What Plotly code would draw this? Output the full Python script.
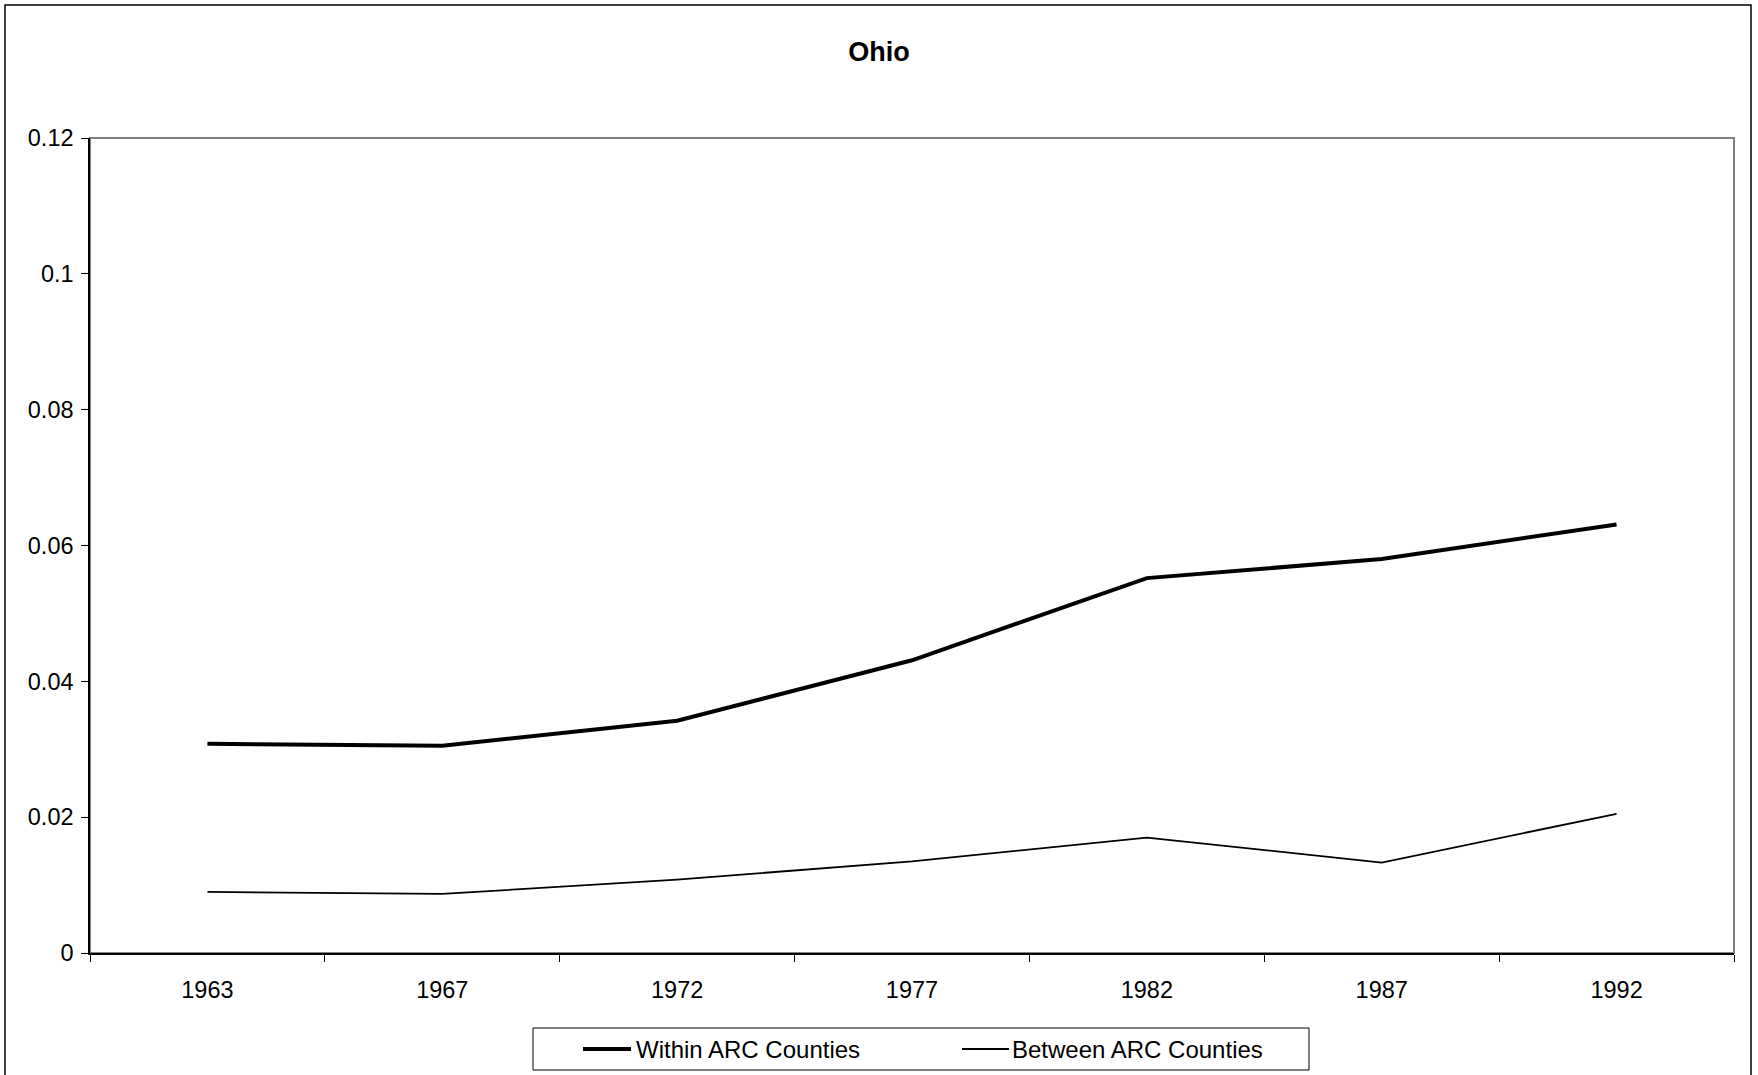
import plotly.graph_objects as go

# ---- data ----
years = ["1963", "1967", "1972", "1977", "1982", "1987", "1992"]
within_arc = [0.0308, 0.0305, 0.0342, 0.0431, 0.0552, 0.0580, 0.0631]
between_arc = [0.0090, 0.0087, 0.0108, 0.0135, 0.0170, 0.0133, 0.0205]
y_ticks = [0, 0.02, 0.04, 0.06, 0.08, 0.10, 0.12]
y_tick_text = ["0", "0.02", "0.04", "0.06", "0.08", "0.1", "0.12"]
series_names = ["Within ARC Counties", "Between ARC Counties"]
chart_title = "Ohio"

# ---- page geometry (pixels) ----
W, H = 1758, 1075
PL, PR, PT, PB = 90, 1734, 138, 953          # plot area edges
FONT = "Liberation Sans, Arial, sans-serif"


def px_x(x):
    return (x - PL) / (PR - PL)


def px_y(y):
    return (PB - y) / (PB - PT)


fig = go.Figure()
fig.add_trace(go.Scatter(x=years, y=within_arc, mode="lines", name=series_names[0],
                         line=dict(color="black", width=4), showlegend=False))
fig.add_trace(go.Scatter(x=years, y=between_arc, mode="lines", name=series_names[1],
                         line=dict(color="black", width=1.8), showlegend=False))

shapes = [
    # outer chart frame
    dict(type="rect", xref="paper", yref="paper", x0=px_x(5), x1=px_x(1751),
         y0=px_y(5), y1=px_y(1095), line=dict(color="black", width=1.5), layer="below"),
    # grey plot-area border (top/right visible)
    dict(type="rect", xref="paper", yref="paper", x0=0, x1=1, y0=0, y1=1,
         line=dict(color="#808080", width=2), layer="below"),
    # legend box
    dict(type="rect", xref="paper", yref="paper", x0=px_x(533), x1=px_x(1309),
         y0=px_y(1028), y1=px_y(1070), line=dict(color="black", width=1),
         fillcolor="white", layer="above"),
    # legend line samples
    dict(type="line", xref="paper", yref="paper", x0=px_x(583), x1=px_x(631),
         y0=px_y(1049), y1=px_y(1049), line=dict(color="black", width=4)),
    dict(type="line", xref="paper", yref="paper", x0=px_x(962), x1=px_x(1009),
         y0=px_y(1049), y1=px_y(1049), line=dict(color="black", width=1.8)),
]

annotations = [
    dict(text=series_names[0], xref="paper", yref="paper", x=px_x(634), y=px_y(1049),
         xanchor="left", yanchor="middle", showarrow=False,
         font=dict(family=FONT, size=24, color="black")),
    dict(text=series_names[1], xref="paper", yref="paper", x=px_x(1010), y=px_y(1049),
         xanchor="left", yanchor="middle", showarrow=False,
         font=dict(family=FONT, size=24, color="black")),
]

fig.update_layout(
    width=W, height=H,
    margin=dict(l=PL, r=W - PR, t=PT, b=H - PB, pad=0),
    paper_bgcolor="white", plot_bgcolor="white",
    font=dict(family=FONT, size=23, color="black"),
    title=dict(text=chart_title, x=0.5, xref="container", xanchor="center",
               y=1 - 52 / H, yref="container", yanchor="middle",
               font=dict(family=FONT, size=27, color="black", weight="bold")),
    shapes=shapes,
    annotations=annotations,
    showlegend=False,
)

fig.update_xaxes(
    type="category", categoryorder="array", categoryarray=years,
    range=[-0.5, len(years) - 0.5],
    tickson="boundaries", ticks="outside", ticklen=7, tickwidth=1.3, tickcolor="black",
    showline=True, linecolor="black", linewidth=1.5,
    showgrid=False, zeroline=False,
    tickfont=dict(family=FONT, size=23.5, color="black"),
    ticklabelstandoff=15,
)
fig.update_yaxes(
    range=[0, 0.12], tickvals=y_ticks, ticktext=y_tick_text,
    ticks="outside", ticklen=7, tickwidth=1.3, tickcolor="black",
    showline=True, linecolor="black", linewidth=1.5,
    showgrid=False, zeroline=False,
    tickfont=dict(family=FONT, size=23.5, color="black"),
    ticklabelstandoff=3,
)

fig.write_html("out.html")
